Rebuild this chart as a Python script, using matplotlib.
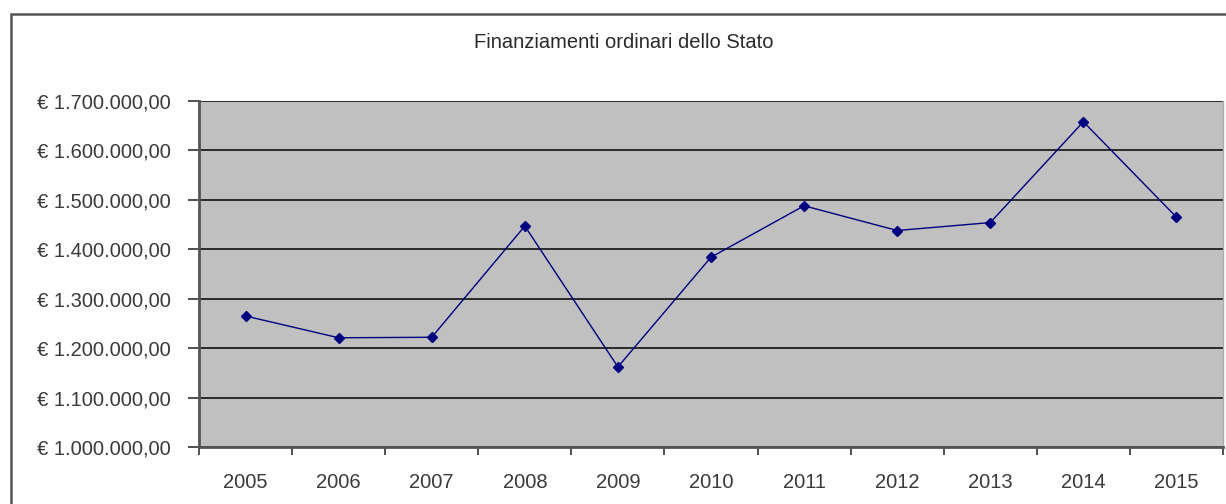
import matplotlib
matplotlib.use("Agg")
import matplotlib.pyplot as plt
from matplotlib.patches import Rectangle
from matplotlib.ticker import FuncFormatter, FixedLocator

years = ["2005", "2006", "2007", "2008", "2009", "2010",
         "2011", "2012", "2013", "2014", "2015"]
funding = [1265000, 1221000, 1222000, 1447000, 1162000, 1384000,
           1488000, 1438000, 1454000, 1658000, 1465000]
y_ticks = [1000000, 1100000, 1200000, 1300000, 1400000, 1500000, 1600000, 1700000]
title = "Finanziamenti ordinari dello Stato"

plt.rcParams["font.family"] = ["Liberation Sans", "DejaVu Sans"]
text_color = "#3a3a3a"

fig = plt.figure(figsize=(12.26, 5.04), dpi=100)
fig.patch.set_facecolor("white")

# outer chart frame
fig.patches.append(Rectangle((11 / 1226, -0.05), 1.2, 1 - 14 / 504 + 0.05,
                             transform=fig.transFigure, fill=False,
                             edgecolor="#555555", linewidth=1.8))

ax = fig.add_axes([199 / 1226, 1 - 447 / 504, (1223 - 199) / 1226, (447 - 101) / 504])
ax.set_facecolor("#c0c0c0")

x = list(range(len(years)))
ax.plot(x, funding, color="#000080", linewidth=1.0, marker="D",
        markersize=5, markerfacecolor="#000080", markeredgecolor="#000080",
        zorder=3)

ax.set_xlim(-0.5, len(years) - 0.5)
ax.set_ylim(y_ticks[0], y_ticks[-1])

ax.set_yticks(y_ticks)
ax.yaxis.set_major_formatter(FuncFormatter(
    lambda v, p: "€ " + f"{v:,.2f}".replace(",", "X").replace(".", ",").replace("X", ".")))
ax.grid(axis="y", color="#2a2a2a", linewidth=1.4)
ax.set_axisbelow(True)

ax.set_xticks(x)
ax.set_xticklabels(years)
ax.xaxis.set_minor_locator(FixedLocator([i - 0.5 for i in range(len(years) + 1)]))
ax.tick_params(axis="x", which="major", length=0, pad=19, labelsize=14.5,
               labelcolor=text_color)
ax.tick_params(axis="x", which="minor", length=6, width=1.2, color="#333333",
               direction="out")
ax.tick_params(axis="y", length=8, width=1.2, color="#333333", pad=12,
               labelsize=14.5, labelcolor=text_color)

for side in ("left", "bottom"):
    ax.spines[side].set_color("#555555")
    ax.spines[side].set_linewidth(2.0)
ax.spines["top"].set_visible(False)
ax.spines["right"].set_color("#aaaaaa")
ax.spines["right"].set_linewidth(1.0)

fig.text(624 / 1226, 1 - 42 / 504, title, ha="center", va="center",
         fontsize=14.5, color="#2a2a2a")

fig.savefig("out.png", dpi=100)
